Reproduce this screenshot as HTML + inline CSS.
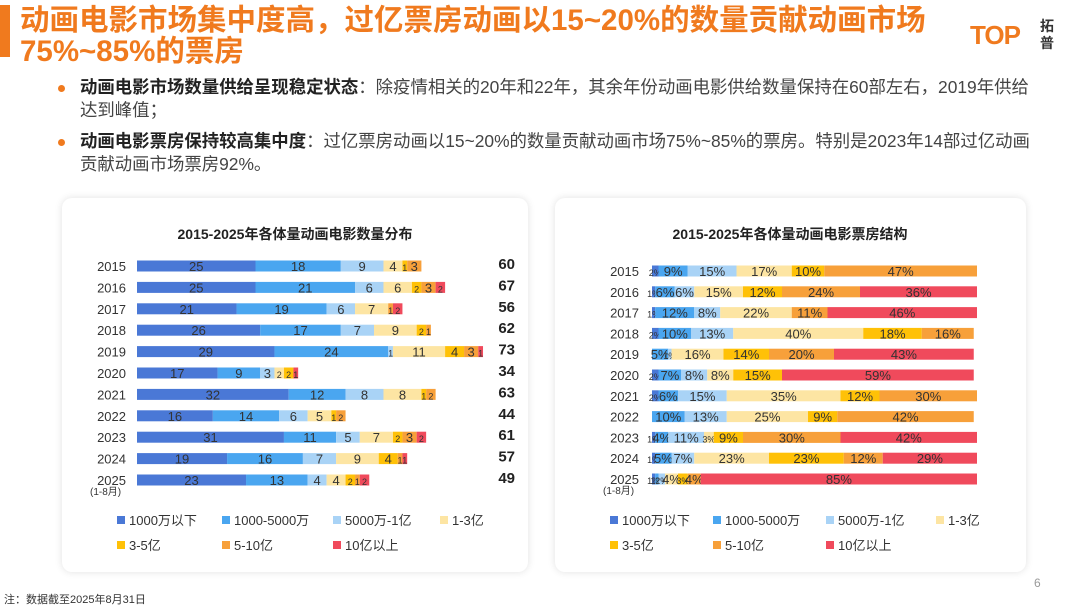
<!DOCTYPE html>
<html><head><meta charset="utf-8">
<style>
body{margin:0;width:1080px;height:611px;background:#fff;position:relative;overflow:hidden;font-family:"Liberation Sans","Noto Sans CJK SC",sans-serif;color:#333}
.abs{position:absolute}
.title{left:20px;top:5px;font-size:29.5px;line-height:31px;font-weight:bold;color:#f07a1e;width:960px;white-space:nowrap}
.bul{left:80px;font-size:17.4px;line-height:23px;width:955px;color:#444}
.bul b{color:#222}
.dot{width:7px;height:7px;border-radius:50%;background:#f07a1e;left:58px}
.card{background:#fff;border-radius:10px;box-shadow:0 0 8px rgba(0,0,0,0.12)}
</style></head><body>
<div class="abs" style="left:0;top:5px;width:10px;height:52px;background:#f07a1e"></div>
<div class="abs title">动画电影市场集中度高，过亿票房动画以15~20%的数量贡献动画市场<br>75%~85%的票房</div>
<div class="abs" style="left:970px;top:20px;font-size:26px;font-weight:bold;color:#f07a1e;letter-spacing:-1px">TOP</div>
<div class="abs" style="left:1040px;top:18px;font-size:14px;line-height:17px;font-weight:bold;color:#333;width:16px">拓普</div>
<div class="abs dot" style="top:85px"></div>
<div class="abs bul" style="top:76px"><b>动画电影市场数量供给呈现稳定状态</b>：除疫情相关的20年和22年，其余年份动画电影供给数量保持在60部左右，2019年供给达到峰值；</div>
<div class="abs dot" style="top:139px"></div>
<div class="abs bul" style="top:130px"><b>动画电影票房保持较高集中度</b>：过亿票房动画以15~20%的数量贡献动画市场75%~85%的票房。特别是2023年14部过亿动画贡献动画市场票房92%。</div>
<div class="abs card" style="left:62px;top:198px;width:466px;height:374px"></div>
<div class="abs card" style="left:555px;top:198px;width:471px;height:374px"></div>
<svg class="abs" style="left:0;top:0" width="1080" height="611" id="svg"></svg>
<div class="abs" style="left:4px;top:591px;font-size:11px;color:#333">注：数据截至2025年8月31日</div>
<div class="abs" style="left:1034px;top:576px;font-size:12px;color:#999">6</div>
<script>
const years=["2015","2016","2017","2018","2019","2020","2021","2022","2023","2024","2025"];
const seriesNames=["1000万以下","1000-5000万","5000万-1亿","1-3亿","3-5亿","5-10亿","10亿以上"];
const colors=["#4a78d6","#4aa6f0","#a9d3f6","#fde5a3","#ffc107","#f7a03a","#f04a5c"];
const countData=[
[25,18,9,4,1,3,0],[25,21,6,6,2,3,2],[21,19,6,7,0,1,2],[26,17,7,9,2,1,0],[29,24,1,11,4,3,1],
[17,9,3,2,2,0,1],[32,12,8,8,1,2,0],[16,14,6,5,1,2,0],[31,11,5,7,2,3,2],[19,16,7,9,4,1,1],[23,13,4,4,2,1,2]];
const countTotals=[60,67,56,62,73,34,63,44,61,57,49];
const shareData=[
[2,9,15,17,10,47,0],[1,6,6,15,12,24,36],[1,12,8,22,0,11,46],[2,10,13,40,18,16,0],[0,5,1,16,14,20,43],
[2,7,8,8,15,0,59],[2,6,15,35,12,30,0],[0,10,13,25,9,42,0],[1,4,11,3,9,30,42],[1,5,7,23,23,12,29],[1,1,2,4,3,4,85]];
const svg=document.getElementById('svg');
const NS="http://www.w3.org/2000/svg";
function mk(tag,attrs,txt){const e=document.createElementNS(NS,tag);for(const k in attrs)e.setAttribute(k,attrs[k]);if(txt!==undefined)e.textContent=txt;svg.appendChild(e);return e;}
function chart(cfg){
  const t=mk('text',{x:cfg.cx,y:239,'text-anchor':'middle','font-size':14,'font-weight':'bold',fill:'#222'},cfg.title);
  
  
  const xs=v=>cfg.x0+v*cfg.scale;
  const ys=i=>cfg.y0+i*cfg.step;
  years.forEach((yr,i)=>{
    const yl=mk('text',{x:cfg.lx,y:ys(i)+5,'text-anchor':'end','font-size':13,fill:'#333'},yr);
    
    
    let acc=0;
    cfg.data[i].forEach((v,s)=>{
      if(v<=0)return;
      const r=mk('rect',{x:xs(acc),y:ys(i)-5.5,width:v*cfg.scale,height:11,fill:colors[s]});
      
      
      const lab=cfg.pct?v+'%':''+v;
      const fs=(v*cfg.scale<12)?9:13;
      const tx=mk('text',{x:xs(acc+v/2),y:ys(i)+5,'text-anchor':'middle','font-size':fs,fill:'#333'},lab);
      
      
      acc+=v;
    });
    if(cfg.totals){
      const tt=mk('text',{x:515,y:ys(i)+3,'text-anchor':'end','font-size':15,'font-weight':'bold',fill:'#222'},cfg.totals[i]);
      
      
    }
  });
  const sub=mk('text',{x:cfg.lx-36,y:ys(10)+15,'font-size':10,fill:'#333'},'(1-8月)');
  
  
  seriesNames.forEach((n,s)=>{
    const col=s%4,row=Math.floor(s/4);
    const lx=cfg.legX[col],ly=521+row*25;
    const r=mk('rect',{x:lx,y:ly-5,width:8,height:8,fill:colors[s]});
    
    
    const t2=mk('text',{x:lx+12,y:ly+4,'font-size':13,fill:'#333'},n);
    
    
  });
}
chart({key:'count',title:'2015-2025年各体量动画电影数量分布',cx:295,x0:137,scale:4.74,y0:266,step:21.4,lx:126,data:countData,totals:countTotals,pct:false,legX:[117,222,333,440]});
chart({key:'share',title:'2015-2025年各体量动画电影票房结构',cx:790,x0:652,scale:3.25,y0:271,step:20.8,lx:639,data:shareData,pct:true,legX:[610,713,826,936]});
</script>
</body></html>
